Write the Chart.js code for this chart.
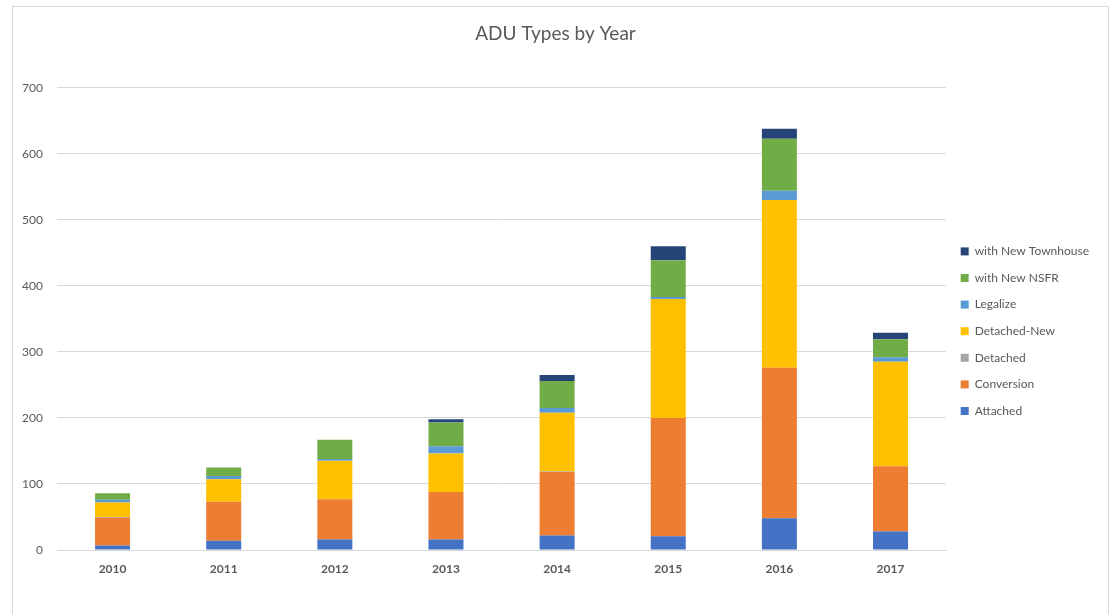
<!DOCTYPE html>
<html>
<head>
<meta charset="utf-8">
<script src="https://cdn.jsdelivr.net/npm/chart.js@4.4.0/dist/chart.umd.min.js"></script>
<style>
    html, body { margin: 0; padding: 0; background: #fff; }
    #frame {
        position: absolute;
        left: 12px;
        top: 6px;
        width: 1097px;
        height: 620px;
        border: 1px solid #d9d9d9;
        box-sizing: border-box;
    }
    #wrap {
        position: absolute;
        left: 12px;
        top: 6px;
        width: 1098px;
        height: 608px;
    }
</style>
</head>
<body>
<div id="frame"></div>
<div id="wrap"><canvas id="aduChart" width="1098" height="608"></canvas></div>
<script>
// Years on the x axis
const years = ['2010', '2011', '2012', '2013', '2014', '2015', '2016', '2017'];

// ADU counts per type
const attached       = [7, 14, 16, 16, 22, 21, 48, 28];
const conversion     = [42, 59, 61, 72, 96, 179, 228, 99];
const detached       = [1, 0, 0, 0, 1, 0, 0, 0];
const detachedNew    = [22, 34, 58, 58, 89, 180, 254, 158];
const legalize       = [4, 5, 3, 11, 7, 3, 14, 7];
const withNewNSFR    = [10, 13, 29, 36, 41, 56, 79, 27];
const withTownhouse  = [0, 0, 0, 5, 9, 21, 15, 10];

const yTicks = [0, 100, 200, 300, 400, 500, 600, 700];

const textColor = '#595959';
const gridColor = '#d9d9d9';
const fontFamily = 'Lato, "Open Sans", sans-serif';

function makeSet(label, data, color) {
    return {
        label: label,
        data: data,
        backgroundColor: color,
        borderColor: color,
        borderWidth: 0,
        categoryPercentage: 1,
        barPercentage: 0.315
    };
}

const datasets = [
    makeSet('Attached', attached, '#4472C4'),
    makeSet('Conversion', conversion, '#ED7D31'),
    makeSet('Detached', detached, '#A5A5A5'),
    makeSet('Detached-New', detachedNew, '#FFC000'),
    makeSet('Legalize', legalize, '#5B9BD5'),
    makeSet('with New NSFR', withNewNSFR, '#70AD47'),
    makeSet('with New Townhouse', withTownhouse, '#264478')
];

const ctx = document.getElementById('aduChart').getContext('2d');
new Chart(ctx, {
    type: 'bar',
    data: { labels: years, datasets },
    options: {
        responsive: false,
        animation: false,
        layout: {
            padding: { top: 16, right: 11, bottom: 0, left: 0 }
        },
        plugins: {
            title: {
                display: true,
                text: 'ADU Types by Year',
                color: textColor,
                font: { family: fontFamily, size: 19, weight: 'normal' },
                padding: { top: 0, bottom: 43 }
            },
            legend: {
                position: 'right',
                reverse: true,
                title: {
                    display: true,
                    text: '',
                    font: { size: 12 },
                    padding: 6
                },
                labels: {
                    color: textColor,
                    font: { family: fontFamily, size: 12 },
                    boxWidth: 8,
                    boxHeight: 8,
                    padding: 14.6
                }
            },
            tooltip: { enabled: false }
        },
        scales: {
            x: {
                stacked: true,
                grid: { display: false },
                border: { color: gridColor, width: 1 },
                ticks: {
                    color: textColor,
                    font: { family: fontFamily, size: 12, weight: 'bold' },
                    padding: 4
                },
                afterFit: function(scale) {
                    scale.height = 64;
                }
            },
            y: {
                stacked: true,
                min: 0,
                max: 700,
                afterBuildTicks: function(scale) {
                    scale.ticks = yTicks.map(v => ({ value: v }));
                },
                grid: {
                    color: gridColor,
                    drawTicks: false
                },
                border: { display: false },
                ticks: {
                    color: textColor,
                    font: { family: fontFamily, size: 12 },
                    padding: 14
                },
                afterFit: function(scale) {
                    scale.width = 45;
                }
            }
        }
    }
});
</script>
</body>
</html>
